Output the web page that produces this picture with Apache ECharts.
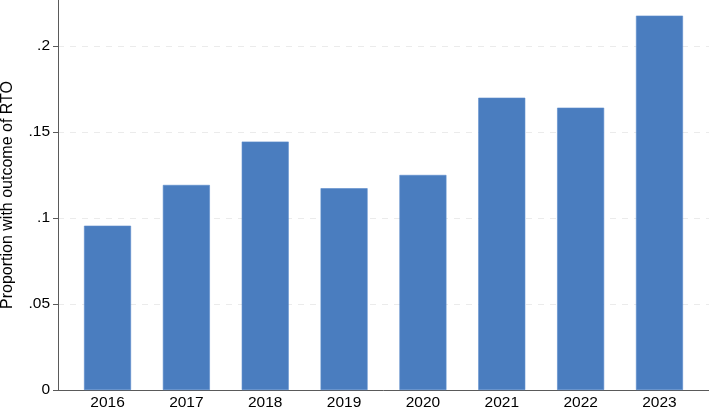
<!DOCTYPE html>
<html>
<head>
<meta charset="utf-8">
<script src="https://cdn.jsdelivr.net/npm/echarts@6/dist/echarts.min.js"></script>
<style>html,body{margin:0;padding:0;background:#fff;}#c{width:709px;height:410px;}</style>
</head>
<body>
<div id="c"></div>
<script>
var years = [2016, 2017, 2018, 2019, 2020, 2021, 2022, 2023];
var proportions = [0.0955, 0.1192, 0.1444, 0.1173, 0.125, 0.1699, 0.1641, 0.2176];
var yTicks = [0, 0.05, 0.1, 0.15, 0.2];
var yTickLabels = ['0', '.05', '.1', '.15', '.2'];

var chart = echarts.init(document.getElementById('c'), null, {renderer: 'canvas'});
var font = 'Liberation Sans, Arial, Helvetica, sans-serif';
chart.setOption({
  animation: false,
  grid: {left: 58, right: 0, top: 0, bottom: 20, containLabel: false, outerBoundsMode: 'none'},
  xAxis: {
    type: 'value',
    min: 2015.372,
    max: 2023.628,
    axisLine: {show: true, lineStyle: {color: '#5a5a5a', width: 1}},
    axisTick: {show: false},
    splitLine: {show: false},
    axisLabel: {
      customValues: years,
      color: '#000', fontSize: 15.5, fontFamily: font, margin: 5,
      formatter: function (v) { return String(Math.round(v)); }
    }
  },
  yAxis: {
    type: 'value',
    min: 0,
    max: 0.2267,
    name: 'Proportion with outcome of RTO',
    nameLocation: 'middle',
    nameGap: 42,
    nameTextStyle: {color: '#000', fontSize: 16, fontFamily: font},
    axisLine: {show: true, lineStyle: {color: '#5a5a5a', width: 1}},
    axisTick: {show: true, length: 5, customValues: yTicks, lineStyle: {color: '#5a5a5a'}},
    axisLabel: {
      customValues: yTicks,
      color: '#000', fontSize: 15.5, fontFamily: font, margin: 8,
      formatter: function (v) {
        var i = yTicks.findIndex(function (t) { return Math.abs(t - v) < 1e-6; });
        return i >= 0 ? yTickLabels[i] : '';
      }
    },
    splitLine: {show: true, lineStyle: {color: '#ebebeb', type: [6, 6], width: 1}},
    interval: 0.05
  },
  series: [{
    type: 'bar',
    barWidth: 47,
    data: years.map(function (y, i) { return [y, proportions[i]]; }),
    itemStyle: {color: '#4a7dbf', borderColor: '#5a8bcb', borderWidth: 0.6}
  }]
});
</script>
</body>
</html>
